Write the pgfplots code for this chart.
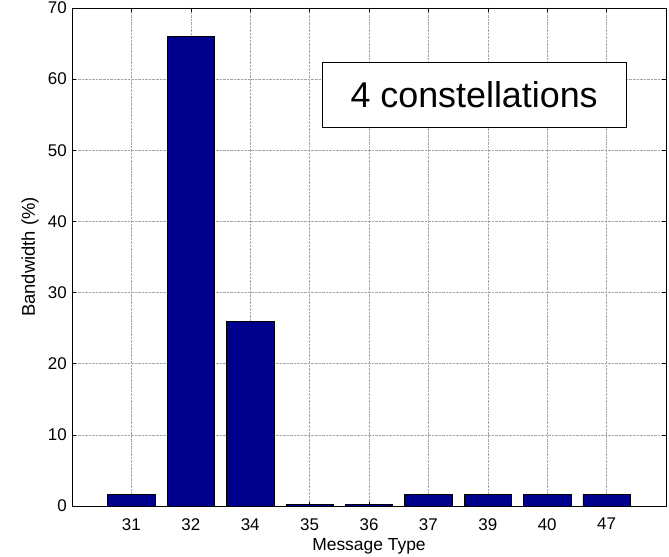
\documentclass[border=0pt]{standalone}
\usepackage{pgfplots}
\pgfplotsset{compat=1.18}
\usepackage{fontspec}
\setmainfont{Liberation Sans}
\definecolor{barblue}{rgb}{0,0,0.5625}
\begin{document}
\begin{tikzpicture}
\begin{axis}[
  at={(0,0)}, anchor=south west,
  scale only axis,
  width=594bp, height=498bp,
  xmin=0, xmax=10, ymin=0, ymax=70,
  xtick={1,2,3,4,5,6,7,8,9},
  xticklabels={31,32,34,35,36,37,39,40,47},
  ytick={0,10,20,30,40,50,60,70},
  ymajorgrids, xmajorgrids,
  grid style={densely dotted, gray!70, line width=0.5pt},
  tick style={black, line width=0.6pt},
  major tick length=4bp,
  tick align=inside,
  axis line style={black, line width=0.8pt},
  tick label style={font=\fontsize{17}{20}\selectfont},
  yticklabel style={inner sep=0pt, anchor=east, xshift=-5bp},
  xticklabel style={inner sep=0pt, anchor=north, yshift=-12bp},
  /pgf/number format/assume math mode=true,
  xlabel={Message Type},
  ylabel={Bandwidth (\%)},
  xlabel style={font=\fontsize{17.5}{20}\selectfont, at={(axis description cs:0.5,-0.0813)}, anchor=center, inner sep=0pt},
  ylabel style={font=\fontsize{18.5}{21}\selectfont, at={(axis description cs:-0.0707,0.5)}, anchor=center, inner sep=0pt},
]
\addplot[ybar, bar width=0.8, fill=barblue, draw=black, line width=0.6pt] coordinates {
  (1,1.6) (2,66) (3,26) (4,0.2) (5,0.2) (6,1.6) (7,1.6) (8,1.6) (9,1.6)
};
\node[draw=black, line width=1bp, fill=white, minimum width=304bp, minimum height=65bp,
  font=\fontsize{36}{40}\selectfont, inner sep=0pt] at (axis cs:6.77,57.84) {4 constellations};
\end{axis}
\pgfresetboundingbox
\path[use as bounding box] (-72bp,-51bp) rectangle (597bp,506bp);
\end{tikzpicture}
\end{document}
